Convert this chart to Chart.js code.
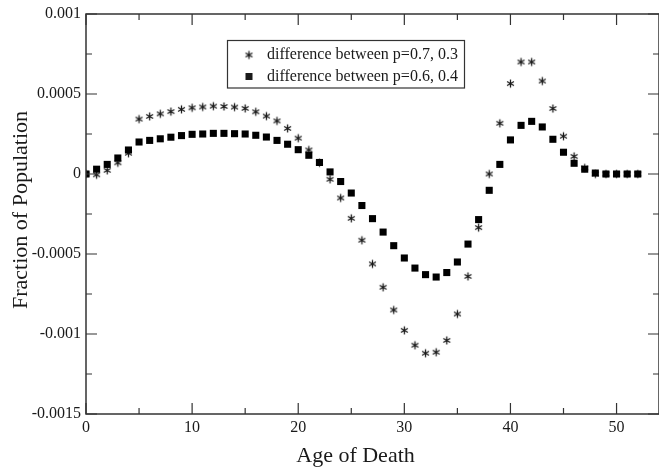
<!DOCTYPE html>
<html>
<head>
<meta charset="utf-8">
<script src="https://cdn.jsdelivr.net/npm/chart.js@4.4.1/dist/chart.umd.min.js"></script>
<style>
  html, body { margin: 0; padding: 0; background: #fff; overflow: hidden; }
  canvas { display: block; }
</style>
</head>
<body>
<canvas id="deathChart" width="659" height="470"></canvas>
<script>
const ages = [0, 1, 2, 3, 4, 5, 6, 7, 8, 9, 10, 11, 12, 13, 14, 15, 16, 17, 18, 19, 20,
    21, 22, 23, 24, 25, 26, 27, 28, 29, 30, 31, 32, 33, 34, 35, 36, 37, 38, 39, 40,
    41, 42, 43, 44, 45, 46, 47, 48, 49, 50, 51, 52];

// p=0.7 vs 0.3 (asterisks)
const diff73 = [0, -0.000005, 0.000023, 0.00007, 0.00013, 0.000343, 0.00036, 0.000376, 0.00039, 0.000404,
    0.000414, 0.000419, 0.000424, 0.000422, 0.000418, 0.00041, 0.000389, 0.000362, 0.000332, 0.000285,
    0.000224, 0.00015, 0.00007, -0.000033, -0.00015, -0.000277, -0.000414, -0.000562, -0.000708, -0.00085,
    -0.000977, -0.00107, -0.00112, -0.001114, -0.00104, -0.000875, -0.00064, -0.000335, 0, 0.000317,
    0.000565, 0.0007, 0.0007, 0.000581, 0.000409, 0.000236, 0.00011, 0.000038, 0, 0,
    0, 0, 0];

// p=0.6 vs 0.4 (squares)
const diff64 = [0, 0.00003, 0.00006, 0.0001, 0.00015, 0.0002, 0.00021, 0.00022, 0.00023, 0.00024,
    0.000248, 0.00025, 0.000254, 0.000254, 0.000252, 0.00025, 0.000242, 0.000231, 0.00021, 0.000186,
    0.000152, 0.000117, 0.000072, 0.000013, -0.000047, -0.000119, -0.000197, -0.000279, -0.000363, -0.000448,
    -0.000525, -0.000588, -0.000629, -0.000644, -0.000616, -0.00055, -0.000438, -0.000285, -0.000102, 0.00006,
    0.000213, 0.000304, 0.000329, 0.000294, 0.000217, 0.000136, 0.000067, 0.00003, 0.000006, 0,
    0, 0, 0];

const seriesLabels = ["difference between p=0.7, 0.3", "difference between p=0.6, 0.4"];

const xTicks = [0, 10, 20, 30, 40, 50];
const xMinorTicks = [5, 15, 25, 35, 45];
const yTicks = [-0.0015, -0.001, -0.0005, 0, 0.0005, 0.001];
const yTickLabels = ["-0.0015", "-0.001", "-0.0005", "0", "0.0005", "0.001"];
const yMinorTicks = [-0.00125, -0.00075, -0.00025, 0.00025, 0.00075];

const serif = "'Liberation Serif', 'Times New Roman', serif";
const ink = "#1a1a1a";

// six-armed asterisk marker
function makeAsterisk(r) {
    const c = document.createElement("canvas");
    c.width = c.height = Math.ceil(r * 2 + 3);
    const g = c.getContext("2d");
    g.translate(c.width / 2, c.height / 2);
    g.strokeStyle = ink;
    g.lineWidth = 1.3;
    g.beginPath();
    [90, 30, 150].forEach(deg => {
        const t = deg * Math.PI / 180;
        g.moveTo(-r * Math.cos(t), -r * Math.sin(t));
        g.lineTo(r * Math.cos(t), r * Math.sin(t));
    });
    g.stroke();
    return c;
}
const asterisk = makeAsterisk(4);

const frameAndLegend = {
    id: "frameAndLegend",
    afterDraw(chart) {
        const { ctx, chartArea: a, scales: { x, y } } = chart;
        ctx.save();

        // frame
        ctx.strokeStyle = "#333";
        ctx.lineWidth = 1.5;
        ctx.strokeRect(a.left, a.top, a.right - a.left, a.bottom - a.top);

        // inward ticks on all four sides
        ctx.lineWidth = 1.2;
        ctx.beginPath();
        xTicks.concat(xMinorTicks).forEach(v => {
            const px = x.getPixelForValue(v);
            const len = xTicks.includes(v) ? 11 : 6;
            ctx.moveTo(px, a.bottom); ctx.lineTo(px, a.bottom - len);
            ctx.moveTo(px, a.top); ctx.lineTo(px, a.top + len);
        });
        yTicks.concat(yMinorTicks).forEach(v => {
            const py = y.getPixelForValue(v);
            const len = yTicks.includes(v) ? 11 : 6;
            ctx.moveTo(a.left, py); ctx.lineTo(a.left + len, py);
            ctx.moveTo(a.right, py); ctx.lineTo(a.right - len, py);
        });
        ctx.stroke();

        // legend box
        ctx.lineWidth = 1.2;
        ctx.strokeRect(227.5, 40.5, 237, 47.5);
        ctx.fillStyle = ink;
        ctx.font = "16px " + serif;
        ctx.textBaseline = "middle";
        ctx.textAlign = "left";
        ctx.drawImage(asterisk, 249 - asterisk.width / 2, 55 - asterisk.height / 2);
        ctx.fillText(chart.data.datasets[0].label, 267, 55);
        ctx.fillRect(245.5, 73, 7, 7);
        ctx.fillText(chart.data.datasets[1].label, 267, 76.5);

        // axis titles
        ctx.font = "22px " + serif;
        ctx.textAlign = "center";
        ctx.textBaseline = "alphabetic";
        ctx.fillText("Age of Death", 355.5, 462);
        ctx.translate(27, 210);
        ctx.rotate(-Math.PI / 2);
        ctx.fillText("Fraction of Population", 0, 0);

        ctx.restore();
    }
};

new Chart(document.getElementById("deathChart"), {
    type: "scatter",
    data: {
        datasets: [
            {
                label: seriesLabels[0],
                data: ages.map((a, i) => ({ x: a, y: diff73[i] })),
                pointStyle: asterisk,
                pointRadius: 4,
                order: 2
            },
            {
                label: seriesLabels[1],
                data: ages.map((a, i) => ({ x: a, y: diff64[i] })),
                pointStyle: "rect",
                pointRadius: 5,
                backgroundColor: "#000",
                borderColor: "#000",
                borderWidth: 0,
                order: 1
            }
        ]
    },
    options: {
        responsive: false,
        animation: false,
        layout: { autoPadding: false, padding: { top: 14, right: -2, left: 0, bottom: 0 } },
        plugins: {
            legend: { display: false },
            tooltip: { enabled: false }
        },
        scales: {
            x: {
                type: "linear",
                min: 0,
                max: 54,
                afterBuildTicks: s => { s.ticks = xTicks.map(v => ({ value: v })); },
                afterFit: s => { s.height = 56; s.paddingLeft = 0; s.paddingRight = 0; },
                grid: { display: false, drawTicks: false },
                border: { display: false },
                ticks: {
                    padding: 4,
                    color: ink,
                    font: { family: serif, size: 16 },
                    maxRotation: 0
                }
            },
            y: {
                min: -0.0015,
                max: 0.001,
                afterBuildTicks: s => { s.ticks = yTicks.map(v => ({ value: v })); },
                afterFit: s => { s.width = 86; s.paddingTop = 0; s.paddingBottom = 0; },
                grid: { display: false, drawTicks: false },
                border: { display: false },
                ticks: {
                    padding: 5,
                    color: ink,
                    font: { family: serif, size: 16 },
                    callback: (v, i) => yTickLabels[i]
                }
            }
        }
    },
    plugins: [frameAndLegend]
});
</script>
</body>
</html>
